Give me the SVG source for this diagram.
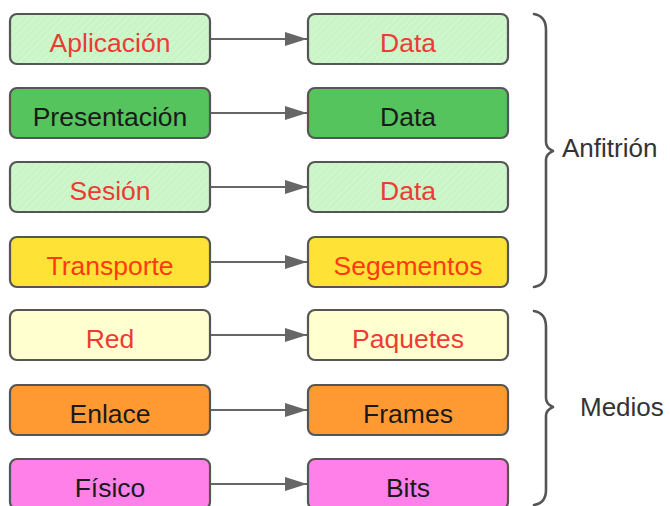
<svg xmlns="http://www.w3.org/2000/svg" width="670" height="506" viewBox="0 0 670 506">
<style>
.box{stroke:#555;stroke-width:2.2}
.t{font-family:"Liberation Sans",Arial,sans-serif;font-size:26.5px;text-anchor:middle}
.red{fill:#ee3b33}
.blk{fill:#1a1a1a}
.conn{stroke:#666;stroke-width:2.2;fill:none}
.brace{stroke:#555;stroke-width:2.6;fill:none;stroke-linecap:round;stroke-linejoin:round}
.lbl{font-family:"Liberation Sans",Arial,sans-serif;font-size:26px;fill:#333}
</style>
<defs>
<pattern id="hatch" width="5" height="5" patternUnits="userSpaceOnUse" patternTransform="rotate(45)">
<rect width="5" height="5" fill="#cdf7cb"/>
<line x1="0" y1="0" x2="0" y2="5" stroke="#c3f0c1" stroke-width="1.5"/>
</pattern>
<marker id="arr" viewBox="0 0 22 14" refX="22" refY="7" markerWidth="22" markerHeight="14" markerUnits="userSpaceOnUse" orient="auto">
<path d="M0,0 L22,7 L0,14 Z" fill="#666"/>
</marker>
</defs>
<g id="connectors">
<line class="conn" x1="210" y1="39" x2="307" y2="39" marker-end="url(#arr)"/>
<line class="conn" x1="210" y1="113" x2="307" y2="113" marker-end="url(#arr)"/>
<line class="conn" x1="210" y1="187" x2="307" y2="187" marker-end="url(#arr)"/>
<line class="conn" x1="210" y1="262" x2="307" y2="262" marker-end="url(#arr)"/>
<line class="conn" x1="210" y1="335" x2="307" y2="335" marker-end="url(#arr)"/>
<line class="conn" x1="210" y1="410" x2="307" y2="410" marker-end="url(#arr)"/>
<line class="conn" x1="210" y1="484" x2="307" y2="484" marker-end="url(#arr)"/>
</g>
<g id="aplicacion"><rect class="box" x="10" y="14" width="200" height="50" rx="7" fill="url(#hatch)"/><text class="t red" x="110" y="52">Aplicación</text></g>
<g id="presentacion"><rect class="box" x="10" y="88" width="200" height="50" rx="7" fill="#55c45d"/><text class="t blk" x="110" y="126">Presentación</text></g>
<g id="sesion"><rect class="box" x="10" y="162" width="200" height="50" rx="7" fill="url(#hatch)"/><text class="t red" x="110" y="200">Sesión</text></g>
<g id="transporte"><rect class="box" x="10" y="237" width="200" height="50" rx="7" fill="#ffe236"/><text class="t" style="fill:#ff3a10" x="110" y="275">Transporte</text></g>
<g id="red"><rect class="box" x="10" y="310" width="200" height="50" rx="7" fill="#ffffcf"/><text class="t red" x="110" y="348">Red</text></g>
<g id="enlace"><rect class="box" x="10" y="385" width="200" height="50" rx="7" fill="#ff9a33"/><text class="t blk" x="110" y="423">Enlace</text></g>
<g id="fisico"><rect class="box" x="10" y="459" width="200" height="50" rx="7" fill="#ff80e8"/><text class="t blk" x="110" y="497">Físico</text></g>
<g id="data1"><rect class="box" x="308" y="14" width="200" height="50" rx="7" fill="url(#hatch)"/><text class="t red" x="408" y="52">Data</text></g>
<g id="data2"><rect class="box" x="308" y="88" width="200" height="50" rx="7" fill="#55c45d"/><text class="t blk" x="408" y="126">Data</text></g>
<g id="data3"><rect class="box" x="308" y="162" width="200" height="50" rx="7" fill="url(#hatch)"/><text class="t red" x="408" y="200">Data</text></g>
<g id="segementos"><rect class="box" x="308" y="237" width="200" height="50" rx="7" fill="#ffe236"/><text class="t" style="fill:#ff3a10" x="408" y="275">Segementos</text></g>
<g id="paquetes"><rect class="box" x="308" y="310" width="200" height="50" rx="7" fill="#ffffcf"/><text class="t red" x="408" y="348">Paquetes</text></g>
<g id="frames"><rect class="box" x="308" y="385" width="200" height="50" rx="7" fill="#ff9a33"/><text class="t blk" x="408" y="423">Frames</text></g>
<g id="bits"><rect class="box" x="308" y="459" width="200" height="50" rx="7" fill="#ff80e8"/><text class="t blk" x="408" y="497">Bits</text></g>
<g id="anfitrion">
<path class="brace" d="M534,14 Q546,16 546,30 L546,142 Q546,148 553,151 Q546,154 546,160 L546,272 Q546,285 534,287"/>
<text class="lbl" x="562" y="157">Anfitrión</text>
</g>
<g id="medios">
<path class="brace" d="M534,311 Q546,313 546,327 L546,398 Q546,404 553,407 Q546,410 546,416 L546,490 Q546,503 534,505"/>
<text class="lbl" x="580" y="416">Medios</text>
</g>
</svg>
